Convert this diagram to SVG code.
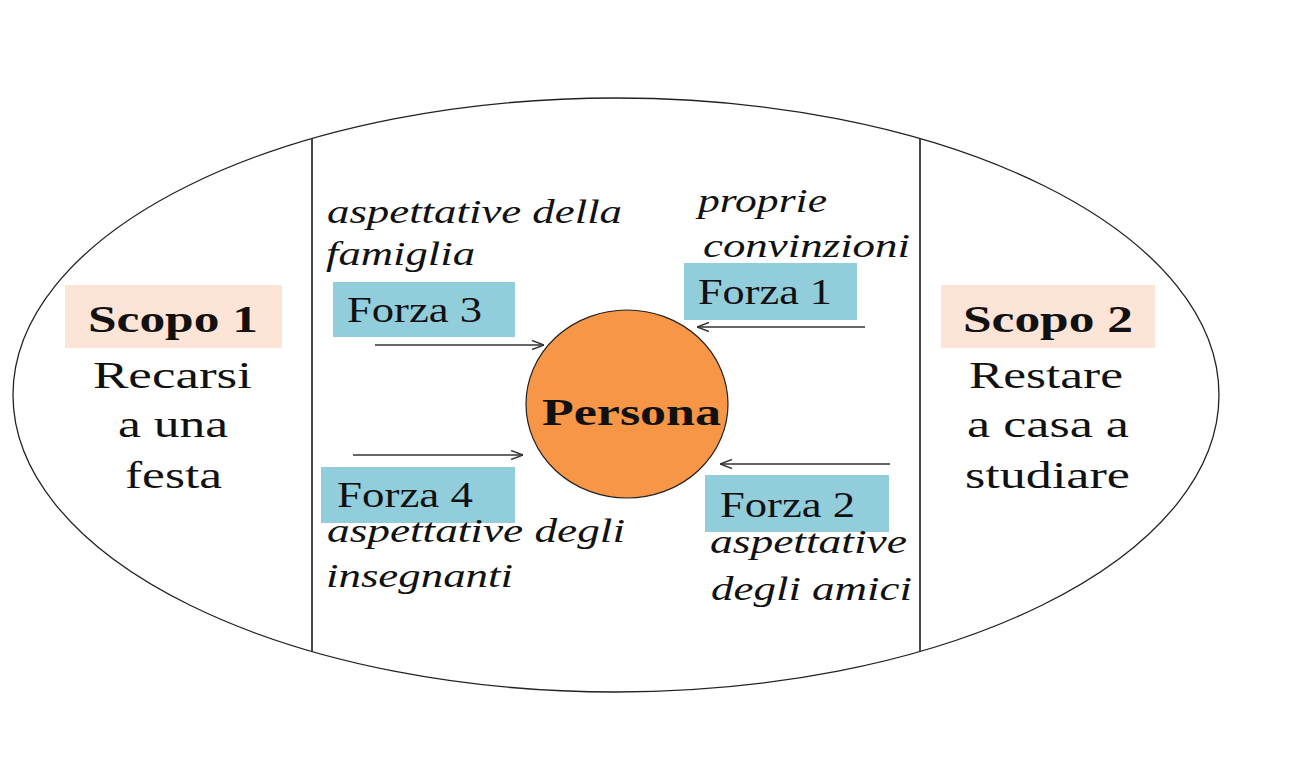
<svg xmlns="http://www.w3.org/2000/svg" width="1295" height="758" viewBox="0 0 1295 758">
<style>
.bg{fill:#ffffff}
.frame{fill:none;stroke:#222;stroke-width:1.3}
.div{stroke:#333;stroke-width:1.8}
.force{fill:#92CDDC}
.goal{fill:#FCE4D6}
.persona{fill:#F79646;stroke:#222;stroke-width:1.2}
.lbl{font-family:"Liberation Serif","Times New Roman",serif;font-size:36px;fill:#111}
.big{font-family:"Liberation Serif","Times New Roman",serif;font-size:38px;fill:#111}
.bold{font-weight:bold}
.it{font-family:"Liberation Serif","Times New Roman",serif;font-style:italic;font-size:34px;fill:#111}
.arr{stroke:#333;stroke-width:1.5;fill:none;marker-end:url(#head)}
</style>
<defs>
<marker id="head" viewBox="0 0 12 10" refX="12" refY="5" markerWidth="12" markerHeight="10" markerUnits="userSpaceOnUse" orient="auto">
<path d="M0,0.5 L12,5 L0,9.5" fill="none" stroke="#333" stroke-width="1.5"/>
</marker>
</defs>
<rect class="bg" x="0" y="0" width="1295" height="758"/>
<g id="frame">
<ellipse class="frame" cx="616" cy="395" rx="603" ry="297"/>
<line class="div" x1="312" y1="139" x2="312" y2="651"/>
<line class="div" x1="920" y1="139" x2="920" y2="651"/>
</g>
<g id="scopo1">
<rect class="goal" x="65" y="285" width="217" height="63"/>
<text class="big bold" x="88" y="332" textLength="170" lengthAdjust="spacingAndGlyphs">Scopo 1</text>
<text class="big" x="93" y="388" textLength="159" lengthAdjust="spacingAndGlyphs">Recarsi</text>
<text class="big" x="118" y="437" textLength="110" lengthAdjust="spacingAndGlyphs">a una</text>
<text class="big" x="125" y="488" textLength="97" lengthAdjust="spacingAndGlyphs">festa</text>
</g>
<g id="scopo2">
<rect class="goal" x="941" y="285" width="214" height="63"/>
<text class="big bold" x="963" y="332" textLength="170" lengthAdjust="spacingAndGlyphs">Scopo 2</text>
<text class="big" x="969" y="388" textLength="154" lengthAdjust="spacingAndGlyphs">Restare</text>
<text class="big" x="967" y="437" textLength="162" lengthAdjust="spacingAndGlyphs">a casa a</text>
<text class="big" x="965" y="488" textLength="165" lengthAdjust="spacingAndGlyphs">studiare</text>
</g>
<g id="persona">
<ellipse class="persona" cx="627" cy="404" rx="101" ry="94"/>
<text class="big bold" x="542" y="425" textLength="179" lengthAdjust="spacingAndGlyphs">Persona</text>
</g>
<g id="forza3">
<rect class="force" x="333" y="282" width="182" height="55"/>
<text class="lbl" x="347" y="322" textLength="135" lengthAdjust="spacingAndGlyphs">Forza 3</text>
<text class="it" x="327" y="223" textLength="295" lengthAdjust="spacingAndGlyphs">aspettative della</text>
<text class="it" x="326" y="265" textLength="149" lengthAdjust="spacingAndGlyphs">famiglia</text>
</g>
<g id="forza1">
<rect class="force" x="684" y="263" width="173" height="57"/>
<text class="lbl" x="698" y="304" textLength="134" lengthAdjust="spacingAndGlyphs">Forza 1</text>
<text class="it" x="698" y="212" textLength="129" lengthAdjust="spacingAndGlyphs">proprie</text>
<text class="it" x="703" y="257" textLength="207" lengthAdjust="spacingAndGlyphs">convinzioni</text>
</g>
<g id="forza4">
<rect class="force" x="321" y="467" width="194" height="56"/>
<text class="lbl" x="337" y="507" textLength="136" lengthAdjust="spacingAndGlyphs">Forza 4</text>
<text class="it" x="327" y="542" textLength="298" lengthAdjust="spacingAndGlyphs">aspettative degli</text>
<text class="it" x="326" y="587" textLength="187" lengthAdjust="spacingAndGlyphs">insegnanti</text>
</g>
<g id="forza2">
<rect class="force" x="705" y="475" width="184" height="57"/>
<text class="lbl" x="720" y="517" textLength="135" lengthAdjust="spacingAndGlyphs">Forza 2</text>
<text class="it" x="710" y="553" textLength="197" lengthAdjust="spacingAndGlyphs">aspettative</text>
<text class="it" x="711" y="600" textLength="201" lengthAdjust="spacingAndGlyphs">degli amici</text>
</g>
<g id="connectors">
<line class="arr" x1="375" y1="345" x2="544" y2="345"/>
<line class="arr" x1="865" y1="327" x2="697" y2="327"/>
<line class="arr" x1="353" y1="455" x2="523" y2="455"/>
<line class="arr" x1="890" y1="464" x2="720" y2="464"/>
</g>
</svg>
